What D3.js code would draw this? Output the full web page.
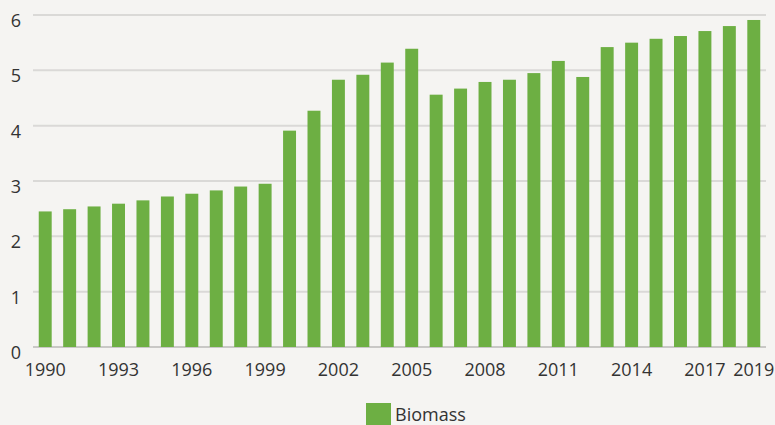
<!DOCTYPE html>
<html>
<head>
<meta charset="utf-8">
<script src="https://cdn.jsdelivr.net/npm/d3@7"></script>
<style>
  html, body { margin: 0; padding: 0; background: #f5f4f2; }
  svg { display: block; font-family: "Open Sans", Lato, sans-serif; }
</style>
</head>
<body>
<script>
let years = d3.range(1990, 2020);
let biomass = [2.45, 2.49, 2.54, 2.59, 2.65, 2.72, 2.77, 2.83, 2.90, 2.95,
               3.91, 4.27, 4.83, 4.92, 5.14, 5.39, 4.56, 4.67, 4.79, 4.83,
               4.95, 5.17, 4.88, 5.42, 5.50, 5.57, 5.62, 5.71, 5.80, 5.91];
let yTicks = [0, 1, 2, 3, 4, 5, 6];
let xTicks = [1990, 1993, 1996, 1999, 2002, 2005, 2008, 2011, 2014, 2017, 2019];
let seriesName = "Biomass";

init();

function init() {
  let width = 775, height = 425,
      margin = {l: 33, r: 9, t: 15, b: 78};

  let svg = d3.select("body")
              .append("svg")
              .attr("width", width)
              .attr("height", height);

  svg.append("rect")
     .attr("width", width)
     .attr("height", height)
     .attr("fill", "#f5f4f2");

  let x = d3.scaleBand()
            .domain(years)
            .range([margin.l, width - margin.r])
            .paddingInner(0.47)
            .paddingOuter(0.235);

  let y = d3.scaleLinear()
            .domain([0, 6])
            .range([height - margin.b, margin.t]);

  // gridlines
  svg.append("g")
     .selectAll("line")
     .data(yTicks)
     .enter()
     .append("line")
     .attr("x1", margin.l)
     .attr("x2", width - margin.r)
     .attr("y1", d => y(d))
     .attr("y2", d => y(d))
     .attr("stroke", d => d === 0 ? "#c9c8c6" : "#dad9d7")
     .attr("stroke-width", 2);

  // y labels
  svg.append("g")
     .selectAll("text")
     .data(yTicks)
     .enter()
     .append("text")
     .attr("x", 21)
     .attr("y", d => y(d) + 12)
     .attr("text-anchor", "end")
     .attr("font-size", 18)
     .attr("fill", "#333")
     .text(d => d);

  // bars
  svg.append("g")
     .selectAll("rect")
     .data(biomass)
     .enter()
     .append("rect")
     .attr("x", (d, i) => x(years[i]))
     .attr("y", d => y(d))
     .attr("width", x.bandwidth())
     .attr("height", d => y(0) - y(d))
     .attr("fill", "#6daf43");

  // x labels
  svg.append("g")
     .selectAll("text")
     .data(xTicks)
     .enter()
     .append("text")
     .attr("x", d => x(d) + x.bandwidth() / 2)
     .attr("y", 376)
     .attr("text-anchor", "middle")
     .attr("font-size", 18)
     .attr("fill", "#333")
     .text(d => d);

  // legend
  let lg = svg.append("g");
  lg.append("rect")
    .attr("x", 366)
    .attr("y", 403)
    .attr("width", 25)
    .attr("height", 25)
    .attr("fill", "#6daf43");
  lg.append("text")
    .attr("x", 395)
    .attr("y", 421)
    .attr("font-size", 18)
    .attr("fill", "#333")
    .text(seriesName);
}
</script>
</body>
</html>
